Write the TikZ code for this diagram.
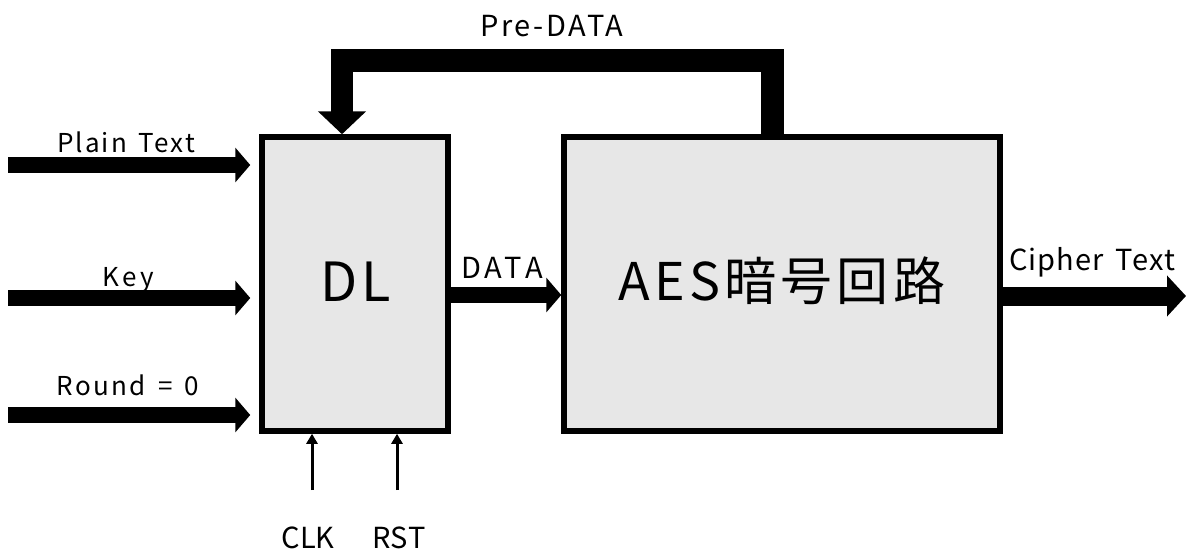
\documentclass[tikz,border=0pt]{standalone}
\usepackage{fontspec}
\setmainfont{Noto Sans CJK JP}
\usetikzlibrary{arrows.meta}
\definecolor{boxfill}{HTML}{E7E7E7}
\newcommand\spaced[1]{\addfontfeature{LetterSpace=#1}}
\newcommand\gap{\hspace{4pt}}
\begin{document}
\begin{tikzpicture}[x=1pt,y=-1pt,
  block/.style={draw=black,fill=boxfill,line width=5.5pt,inner sep=0pt},
  busin/.style={line width=16pt,-{Triangle[length=15pt,width=34pt]}},
  busout/.style={line width=19pt,-{Triangle[length=19pt,width=40pt]}},
  feedback/.style={line width=22.5pt,line join=miter,-{Triangle[length=23pt,width=47pt]}},
  ctrl/.style={line width=3pt,-{Triangle[length=10pt,width=11pt]}},
  lbl/.style={anchor=base,inner sep=0pt,font=\fontsize{29}{32}\selectfont},
  lblsmall/.style={anchor=base,inner sep=0pt,font=\fontsize{26}{30}\selectfont}]
\useasboundingbox (0,0) rectangle (1186,552);

% blocks
\node[block,minimum width=186pt,minimum height=294pt] (dl) at (355,284) {};
\node[block,minimum width=436pt,minimum height=294pt] (aes) at (782,284) {};
\node[anchor=base,inner sep=0pt,font=\fontsize{54}{60}\selectfont] (dltxt) at (356,301) {\spaced{7}DL};
\node[anchor=base,inner sep=0pt,font=\fontsize{52}{58}\selectfont] (aestxt) at (782,300) {\spaced{8}AES暗号回路};

% inputs to DL
\coordinate (in1) at (8,165);
\coordinate (in2) at (8,298);
\coordinate (in3) at (8,415);
\draw[busin,shorten >=9pt] (in1) -- (dl.west |- in1);
\draw[busin,shorten >=9pt] (in2) -- (dl.west |- in2);
\draw[busin,shorten >=9pt] (in3) -- (dl.west |- in3);
\node[lblsmall] (lpt) at (126,152) {\spaced{8}Plain\gap{} Text};
\node[lblsmall] (lkey) at (128,286) {\spaced{13}Key};
\node[lblsmall] (lrnd) at (128,395) {\spaced{9}Round\gap{} =\gap{} 0};

% DL to AES
\coordinate (d0) at (451,295);
\draw[busin] (d0) -- (aes.west |- d0);
\node[lbl] (ldata) at (502,278) {\spaced{14}DATA};

% AES output
\coordinate (c0) at (1000,296);
\coordinate (c1) at (1186,296);
\draw[busout] (c0) -- (c1);
\node[lbl] (lcip) at (1092,270) {\spaced{4}Cipher\gap{} Text};

% feedback path
\coordinate (f0) at (772.5,137);
\coordinate (f1) at (772.5,60.5);
\coordinate (f2) at (342,60.5);
\draw[feedback] (f0) -- (f1) -- (f2) -- (dl.north -| f2);
\node[lbl] (lpre) at (552,36) {\spaced{9}Pre-DATA};

% clock and reset
\coordinate (clk0) at (312,490);
\coordinate (rst0) at (397,490);
\draw[ctrl] (clk0) -- (dl.south -| clk0);
\draw[ctrl] (rst0) -- (dl.south -| rst0);
\node[lbl] (lclk) at (308,548) {CLK};
\node[lbl] (lrst) at (399,548) {\spaced{2}RST};
\end{tikzpicture}
\end{document}
